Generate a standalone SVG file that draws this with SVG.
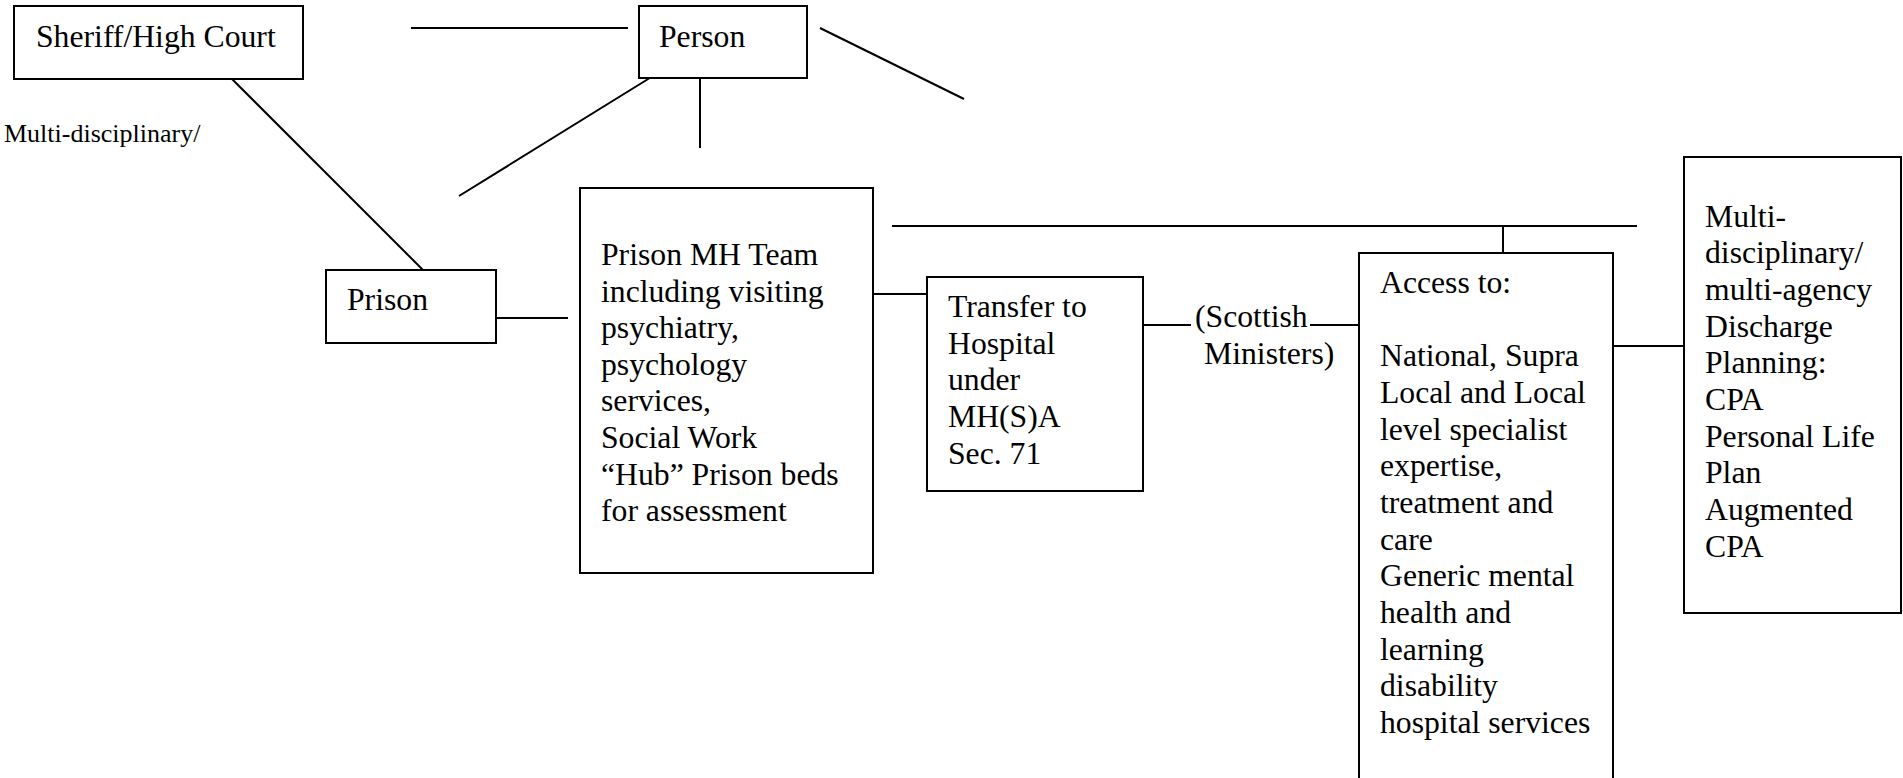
<svg xmlns="http://www.w3.org/2000/svg" width="1903" height="778" viewBox="0 0 1903 778">
  <style>
    .box { fill: #ffffff; stroke: #000000; stroke-width: 2; }
    .edge { fill: none; stroke: #000000; stroke-width: 2; }
    text { font-family: "Liberation Serif", "Times New Roman", serif; font-size: 31.7px; fill: #000000; }
    .small { font-size: 26px; }
  </style>
  <rect x="0" y="0" width="1903" height="778" fill="#ffffff"/>

  <!-- connectors -->
  <g id="connectors">
    <line class="edge" x1="411" y1="28" x2="628" y2="28"/>
    <line class="edge" x1="820" y1="28" x2="964" y2="99"/>
    <line class="edge" x1="653" y1="76" x2="459" y2="196"/>
    <line class="edge" x1="700" y1="75" x2="700" y2="148"/>
    <line class="edge" x1="232" y1="79" x2="423" y2="270"/>
    <line class="edge" x1="496" y1="318" x2="568" y2="318"/>
    <line class="edge" x1="873" y1="294" x2="927" y2="294"/>
    <line class="edge" x1="892" y1="226" x2="1637" y2="226"/>
    <line class="edge" x1="1503" y1="226" x2="1503" y2="253"/>
    <line class="edge" x1="1143" y1="325" x2="1191" y2="325"/>
    <line class="edge" x1="1310" y1="325" x2="1359" y2="325"/>
    <line class="edge" x1="1613" y1="346" x2="1684" y2="346"/>
  </g>

  <g id="label-multidisciplinary">
    <text class="small" x="4" y="142">Multi-disciplinary/</text>
  </g>

  <g id="sheriff-high-court">
    <rect class="box" x="14" y="6" width="289" height="73"/>
    <text x="36" y="47">Sheriff/High Court</text>
  </g>

  <g id="person">
    <rect class="box" x="639" y="6" width="168" height="72"/>
    <text x="659" y="47">Person</text>
  </g>

  <g id="prison">
    <rect class="box" x="326" y="270" width="170" height="73"/>
    <text x="347" y="310">Prison</text>
  </g>

  <g id="prison-mh-team">
    <rect class="box" x="580" y="188" width="293" height="385"/>
    <text x="601" y="265">Prison MH Team</text>
    <text x="601" y="302">including visiting</text>
    <text x="601" y="338">psychiatry,</text>
    <text x="601" y="375">psychology</text>
    <text x="601" y="411">services,</text>
    <text x="601" y="448">Social Work</text>
    <text x="601" y="485">“Hub” Prison beds</text>
    <text x="601" y="521">for assessment</text>
  </g>

  <g id="transfer-to-hospital">
    <rect class="box" x="927" y="277" width="216" height="214"/>
    <text x="948" y="317">Transfer to</text>
    <text x="948" y="354">Hospital</text>
    <text x="948" y="390">under</text>
    <text x="948" y="427">MH(S)A</text>
    <text x="948" y="464">Sec. 71</text>
  </g>

  <g id="scottish-ministers">
    <text x="1195" y="327">(Scottish</text>
    <text x="1204" y="364">Ministers)</text>
  </g>

  <g id="access-to">
    <path class="box" d="M1359,780 V253 H1613 V780"/>
    <text x="1380" y="293">Access to:</text>
    <text x="1380" y="366">National, Supra</text>
    <text x="1380" y="403">Local and Local</text>
    <text x="1380" y="440">level specialist</text>
    <text x="1380" y="476">expertise,</text>
    <text x="1380" y="513">treatment and</text>
    <text x="1380" y="550">care</text>
    <text x="1380" y="586">Generic mental</text>
    <text x="1380" y="623">health and</text>
    <text x="1380" y="660">learning</text>
    <text x="1380" y="696">disability</text>
    <text x="1380" y="733">hospital services</text>
  </g>

  <g id="discharge-planning">
    <rect class="box" x="1684" y="157" width="217" height="456"/>
    <text x="1705" y="227">Multi-</text>
    <text x="1705" y="263">disciplinary/</text>
    <text x="1705" y="300">multi-agency</text>
    <text x="1705" y="337">Discharge</text>
    <text x="1705" y="373">Planning:</text>
    <text x="1705" y="410">CPA</text>
    <text x="1705" y="447">Personal Life</text>
    <text x="1705" y="483">Plan</text>
    <text x="1705" y="520">Augmented</text>
    <text x="1705" y="557">CPA</text>
  </g>
</svg>
